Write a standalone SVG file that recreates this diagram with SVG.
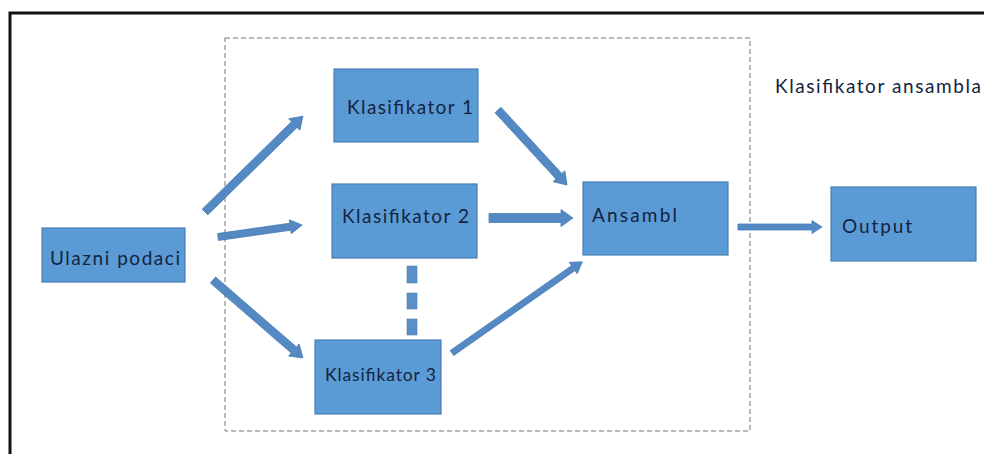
<svg xmlns="http://www.w3.org/2000/svg" width="984" height="454" viewBox="0 0 984 454">
<style>
.box{fill:#5b9bd5;stroke:#4a7fb5;stroke-width:1.2}
.lbl{font-family:Lato,"Open Sans","Liberation Sans",sans-serif;font-size:19px;fill:#14233f}
.arr{fill:#5589c4;stroke:#4a7fb5;stroke-width:0.8}
.dot{fill:#5b8fc9;stroke:#4a7fb5;stroke-width:0.6}
</style>
<rect width="984" height="454" fill="#ffffff"/>
<path d="M10,454 V13 H984" fill="none" stroke="#111" stroke-width="3"/>
<rect x="225" y="38" width="525" height="393" fill="none" stroke="#777" stroke-width="1" stroke-dasharray="5,3"/>
<text class="lbl" x="775" y="93" textLength="206">Klasifikator ansambla</text>
<g id="connectors">
<path class="arr" transform="translate(205,212) rotate(-44.4)" d="M0,-4 H125 V-8 L137,0 L125,8 V4 H0 Z"/>
<path class="arr" transform="translate(218,237) rotate(-8.1)" d="M0,-3.5 H73 V-7 L85,0 L73,7 V3.5 H0 Z"/>
<path class="arr" transform="translate(213,280) rotate(40.9)" d="M0,-4 H107 V-8 L119,0 L107,8 V4 H0 Z"/>
<path class="arr" transform="translate(498,110) rotate(47.4)" d="M0,-4 H90 V-8 L102,0 L90,8 V4 H0 Z"/>
<path class="arr" transform="translate(489,218) rotate(0)" d="M0,-4.5 H72 V-8.5 L84,0 L72,8.5 V4.5 H0 Z"/>
<path class="arr" transform="translate(452,353) rotate(-35)" d="M0,-3 H148 V-7 L159,0 L148,7 V3 H0 Z"/>
<path class="arr" transform="translate(738,227) rotate(0)" d="M0,-3 H74 V-6.5 L84,0 L74,6.5 V3 H0 Z"/>
<rect class="dot" x="407" y="266" width="10" height="17"/>
<rect class="dot" x="407" y="293" width="10" height="16"/>
<rect class="dot" x="407" y="319" width="10" height="16"/>
</g>
<g id="ulazni"><rect class="box" x="42" y="228" width="143" height="54"/><text class="lbl" x="50" y="265" textLength="130">Ulazni podaci</text></g>
<g id="k1"><rect class="box" x="334" y="69" width="144" height="73"/><text class="lbl" x="347" y="114" textLength="126">Klasifikator 1</text></g>
<g id="k2"><rect class="box" x="332" y="184" width="145" height="74"/><text class="lbl" x="342" y="223" textLength="127">Klasifikator 2</text></g>
<g id="k3"><rect class="box" x="315" y="340" width="126" height="74"/><text class="lbl" x="325" y="381" textLength="111" style="font-size:17.5px">Klasifikator 3</text></g>
<g id="ansambl"><rect class="box" x="583" y="182" width="145" height="73"/><text class="lbl" x="592" y="222" textLength="85">Ansambl</text></g>
<g id="output"><rect class="box" x="831" y="187" width="145" height="74"/><text class="lbl" x="842" y="233" textLength="70">Output</text></g>
</svg>
